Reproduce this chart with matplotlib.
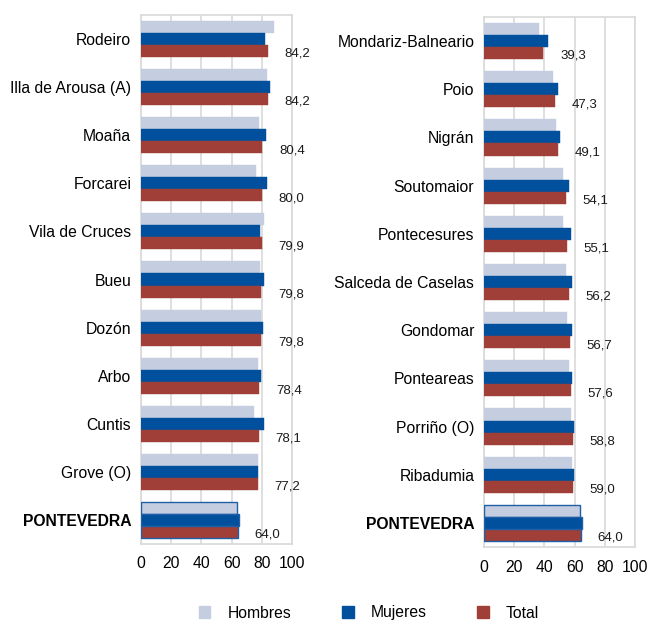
import matplotlib
matplotlib.use("Agg")
import matplotlib.pyplot as plt
import numpy as np
from matplotlib.patches import Patch

plt.rcParams['font.family'] = ['Liberation Sans', 'DejaVu Sans']

left_names = ["Rodeiro", "Illa de Arousa (A)", "Moaña", "Forcarei", "Vila de Cruces",
              "Bueu", "Dozón", "Arbo", "Cuntis", "Grove (O)", "PONTEVEDRA"]
left_hombres = [87.9, 83.5, 78.2, 76.3, 81.5, 78.5, 79.6, 77.8, 74.9, 77.4, 63.5]
left_mujeres = [81.9, 85.3, 82.6, 83.7, 78.9, 81.5, 80.9, 79.6, 81.5, 77.6, 64.6]
left_total = [84.2, 84.2, 80.4, 80.0, 79.9, 79.8, 79.8, 78.4, 78.1, 77.2, 64.0]

right_names = ["Mondariz-Balneario", "Poio", "Nigrán", "Soutomaior", "Pontecesures",
               "Salceda de Caselas", "Gondomar", "Ponteareas", "Porriño (O)", "Ribadumia",
               "PONTEVEDRA"]
right_hombres = [36.3, 45.4, 48.0, 52.0, 52.4, 54.4, 54.8, 56.6, 57.7, 58.6, 63.4]
right_mujeres = [42.3, 49.3, 50.2, 56.0, 57.9, 58.1, 58.6, 58.6, 59.9, 59.5, 64.8]
right_total = [39.3, 47.3, 49.1, 54.1, 55.1, 56.2, 56.7, 57.6, 58.8, 59.0, 64.0]

series_labels = ["Hombres", "Mujeres", "Total"]
colors = ["#C5CEE0", "#00509D", "#A03F38"]
xticks = [0, 20, 40, 60, 80, 100]

W, H = 651, 623
fig = plt.figure(figsize=(W / 100, H / 100), dpi=100)

def draw(ax, names, hom, muj, tot):
    n = len(names)
    y = np.arange(n)
    bh = 0.25
    for i, vals in enumerate([hom, muj, tot]):
        offs = (i - 1) * bh
        for k in range(n):
            is_prov = names[k] == "PONTEVEDRA"
            ax.barh(y[k] + offs, vals[k], height=bh, color=colors[i],
                    edgecolor="#1F5FA8" if is_prov else colors[i],
                    linewidth=1.0 if is_prov else 0.3, zorder=3)
    for k in range(n):
        ax.annotate(f"{tot[k]:.1f}".replace(".", ","), xy=(tot[k], y[k] + bh),
                    xytext=(12, -2), textcoords="offset points",
                    ha="left", va="center", fontsize=9.5, color="#1a1a1a")
    ax.set_ylim(n - 0.5, -0.5)
    ax.set_xlim(0, 100)
    ax.set_yticks(y)
    ax.set_yticklabels(names, fontsize=11.3)
    for lbl in ax.get_yticklabels():
        if lbl.get_text() == "PONTEVEDRA":
            lbl.set_fontweight("bold")
    ax.set_xticks(xticks)
    ax.set_xticklabels([str(t) for t in xticks], fontsize=11.3)
    ax.tick_params(axis="both", length=0, pad=7)
    ax.tick_params(axis="x", pad=9)
    ax.grid(axis="x", color="#D9D9D9", linewidth=1.2, zorder=0)
    ax.set_axisbelow(True)
    for s in ax.spines.values():
        s.set_color("#D9D9D9")
        s.set_linewidth(1.2)

ax1 = fig.add_axes([141 / W, (H - 544) / H, 151 / W, (544 - 15) / H])
draw(ax1, left_names, left_hombres, left_mujeres, left_total)
ax2 = fig.add_axes([484 / W, (H - 547) / H, 151 / W, (547 - 17) / H])
draw(ax2, right_names, right_hombres, right_mujeres, right_total)

handles = [Patch(facecolor=c, edgecolor=c) for c in colors]
fig.legend(handles, series_labels, loc="center", bbox_to_anchor=(369 / W, 1 - 613 / H),
           ncol=3, frameon=False, fontsize=11.3, handlelength=0.75, handleheight=0.75,
           columnspacing=3.2, handletextpad=1.1, borderaxespad=0, borderpad=0)

fig.savefig("out.png", dpi=100)
